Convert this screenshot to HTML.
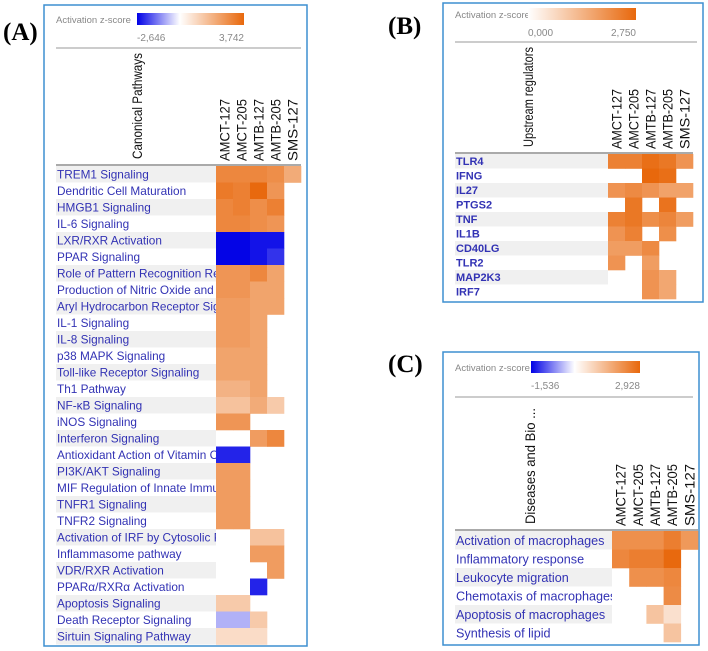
<!DOCTYPE html>
<html><head><meta charset="utf-8"><style>
body{margin:0;background:#fff}
svg{display:block}
text{font-family:"Liberation Sans",sans-serif}
</style></head><body>
<svg id="fig" width="708" height="651" viewBox="0 0 708 651" xmlns="http://www.w3.org/2000/svg">
<defs>
<linearGradient id="gBO" x1="0" x2="1"><stop offset="0" stop-color="#0000e6"/><stop offset="0.4" stop-color="#ffffff"/><stop offset="1" stop-color="#e8680c"/></linearGradient>
<linearGradient id="gO" x1="0" x2="1"><stop offset="0" stop-color="#ffffff"/><stop offset="1" stop-color="#e8680c"/></linearGradient>
</defs>
<text x="3" y="40" font-weight="bold" font-size="25" style="font-family:'Liberation Serif',serif">(A)</text>
<text x="388" y="34" font-weight="bold" font-size="25" style="font-family:'Liberation Serif',serif">(B)</text>
<text x="388" y="372" font-weight="bold" font-size="25" style="font-family:'Liberation Serif',serif">(C)</text>
</svg>
<script>
const samples = ["AMCT-127","AMCT-205","AMTB-127","AMTB-205","SMS-127"];
const rowsA = ["TREM1 Signaling","Dendritic Cell Maturation","HMGB1 Signaling","IL-6 Signaling","LXR/RXR Activation","PPAR Signaling","Role of Pattern Recognition Re","Production of Nitric Oxide and","Aryl Hydrocarbon Receptor Sig","IL-1 Signaling","IL-8 Signaling","p38 MAPK Signaling","Toll-like Receptor Signaling","Th1 Pathway","NF-κB Signaling","iNOS Signaling","Interferon Signaling","Antioxidant Action of Vitamin C","PI3K/AKT Signaling","MIF Regulation of Innate Immu","TNFR1 Signaling","TNFR2 Signaling","Activation of IRF by Cytosolic P","Inflammasome pathway","VDR/RXR Activation","PPARα/RXRα Activation","Apoptosis Signaling","Death Receptor Signaling","Sirtuin Signaling Pathway"];
const valuesA = [
[2.8,2.8,2.8,2.6,1.8],[3.2,3.0,3.7,2.4,null],[2.8,3.0,2.6,3.0,null],[2.8,2.8,2.6,2.4,null],
[-2.6,-2.6,-2.4,-2.4,null],[-2.6,-2.6,-2.4,-2.0,null],[2.4,2.4,2.8,2.0,null],[2.4,2.4,2.0,2.0,null],
[2.2,2.2,2.0,2.0,null],[2.2,2.2,2.0,null,null],[2.2,2.2,2.0,null,null],[2.0,2.0,2.0,null,null],
[2.0,2.0,2.0,null,null],[1.6,1.6,2.0,null,null],[1.2,1.2,1.8,1.0,null],[2.4,2.4,null,null,null],
[null,null,2.2,2.8,null],[-2.2,-2.2,null,null,null],[2.2,2.2,null,null,null],[2.2,2.2,null,null,null],
[2.2,2.2,null,null,null],[2.2,2.2,null,null,null],[null,null,1.2,1.2,null],[null,null,2.2,2.2,null],
[null,null,null,2.2,null],[null,null,-2.2,null,null],[1.0,1.0,null,null,null],[-0.6,-0.6,1.0,null,null],
[0.6,0.6,0.6,null,null]];
const rowsB = ["TLR4","IFNG","IL27","PTGS2","TNF","IL1B","CD40LG","TLR2","MAP2K3","IRF7"];
const valuesB = [
[2.2,2.2,2.6,2.4,1.8],[null,null,2.75,2.6,null],[1.8,2.0,1.8,1.5,1.5],[null,2.4,null,2.5,null],
[2.2,2.4,1.9,2.1,1.6],[1.8,2.2,null,1.9,null],[1.6,1.6,2.0,null,null],[1.8,null,1.6,null,null],
[null,null,1.8,1.4,null],[null,null,1.8,1.4,null]];
const rowsC = ["Activation of macrophages","Inflammatory response","Leukocyte migration","Chemotaxis of macrophages","Apoptosis of macrophages","Synthesis of lipid"];
const valuesC = [
[2.0,2.0,2.0,2.4,1.8],[2.2,2.4,2.4,2.9,null],[null,2.0,2.0,2.2,null],[null,null,null,2.1,null],
[null,null,0.9,0.4,null],[null,null,null,0.9,null]];
const legendA = ["-2,646","3,742"];
const legendB = ["0,000","2,750"];
const legendC = ["-1,536","2,928"];

const svg = document.getElementById('fig');
const NS = 'http://www.w3.org/2000/svg';
const defs = svg.querySelector('defs');
function mk(tag, attrs, parent){const e=document.createElementNS(NS,tag);for(const k in attrs)e.setAttribute(k,attrs[k]);(parent||svg).appendChild(e);return e;}
function color(v,max,min){
  if(v>=0){const t=Math.min(1,v/max);const a=[255,255,255],b=[232,104,12];
    return 'rgb('+a.map((c,i)=>Math.round(c+(b[i]-c)*Math.pow(t,0.8))).join(',')+')';}
  const t=Math.min(1,v/min);const a=[255,255,255],b=[0,0,230];
  return 'rgb('+a.map((c,i)=>Math.round(c+(b[i]-c)*Math.pow(t,0.8))).join(',')+')';
}
let clipN=0;
function panel(p){
  const g=mk('g',{});
  
  
  const box=mk('rect',{x:p.bx,y:p.by,width:p.bw,height:p.bh,fill:'#fff',stroke:'#3d8fd0','stroke-width':1.5},g);
  
  
  const lt=mk('text',{x:p.bx+12,y:p.legY+4,'font-size':9.5,fill:'#888'},g);lt.textContent='Activation z-score';
  
  
  const gb=mk('rect',{x:p.gx,y:p.legY-6,width:p.gw,height:12,fill:p.grad},g);
  
  
  const l0=mk('text',{x:p.gx,y:p.legY+22,'font-size':10,fill:'#888'},g);l0.textContent=p.leg[0];
  
  
  const l1=mk('text',{x:p.gx+p.gw,y:p.legY+22,'font-size':10,fill:'#888','text-anchor':'end'},g);l1.textContent=p.leg[1];
  
  
  mk('line',{x1:p.bx+12,x2:p.bx+p.bw-6,y1:p.lineY,y2:p.lineY,stroke:'#999','stroke-width':1},g);
  const at=mk('text',{transform:'translate('+p.titleX+','+(p.headY-6)+') rotate(-90)','font-size':14,fill:'#111',textLength:p.titleLen,lengthAdjust:'spacingAndGlyphs'},g);at.textContent=p.title;
  
  
  samples.forEach((s,i)=>{
    const t=mk('text',{transform:'translate('+(p.cx+p.cw*i+p.cw/2+5)+','+(p.headY-4)+') rotate(-90)','font-size':14,fill:'#111',textLength:p.colLen,lengthAdjust:'spacingAndGlyphs'},g);
    t.textContent=s;
    
    
  });
  mk('line',{x1:p.bx+12,x2:p.cx+p.cw*5,y1:p.headY,y2:p.headY,stroke:'#aaa','stroke-width':2},g);
  const cid='clip'+(clipN++);
  const cp=mk('clipPath',{id:cid},defs);
  mk('rect',{x:p.bx,y:p.headY,width:p.cx-p.bx,height:p.bh},cp);
  const lg=mk('g',{'clip-path':'url(#'+cid+')'},g);
  p.rows.forEach((r,j)=>{
    const y=p.headY+1+j*p.rh;
    if(j%2===0){mk('rect',{x:p.bx+12,y:y,width:p.cx-p.bx-12,height:p.rh,fill:'#f0f0f0'},lg);}
    const t=mk('text',{x:p.bx+13,y:y+p.rh/2+p.fs*0.36,'font-size':p.fs,fill:'#3232b4','font-weight':p.bold?'bold':'normal'},lg);
    t.textContent=r;
    
    
    p.vals[j].forEach((v,i)=>{
      if(v===null)return;
      const c=mk('rect',{x:p.cx+i*p.cw,y:y,width:p.cw+0.3,height:p.rh+0.3,fill:color(v,p.max,p.min)},g);
      
      
    });
  });
}
panel({name:'panel-a-canonical-pathways',bx:44,by:5,bw:263,bh:641,legY:19,gx:137,gw:107,leg:legendA,grad:'url(#gBO)',lineY:48,
  title:'Canonical Pathways',titleX:142,titleLen:106,colLen:62,headY:165,cx:216,cw:17,rh:16.5,fs:11.8,rows:rowsA,vals:valuesA,max:3.742,min:-2.646});
panel({name:'panel-b-upstream-regulators',bx:443,by:3,bw:260,bh:299,legY:14,gx:528,gw:108,leg:legendB,grad:'url(#gO)',lineY:42,
  title:'Upstream regulators',titleX:533,titleLen:100,colLen:60,headY:153,cx:608,cw:17,rh:14.5,fs:11,bold:true,rows:rowsB,vals:valuesB,max:2.75,min:-1});
panel({name:'panel-c-diseases',bx:443,by:352,bw:256,bh:293,legY:367,gx:531,gw:109,leg:legendC,grad:'url(#gBO)',lineY:397,
  title:'Diseases and Bio ...',titleX:535,titleLen:116,colLen:62,headY:530,cx:612,cw:17.2,rh:18.5,fs:12.6,rows:rowsC,vals:valuesC,max:2.928,min:-1.536});
</script>
</body></html>
